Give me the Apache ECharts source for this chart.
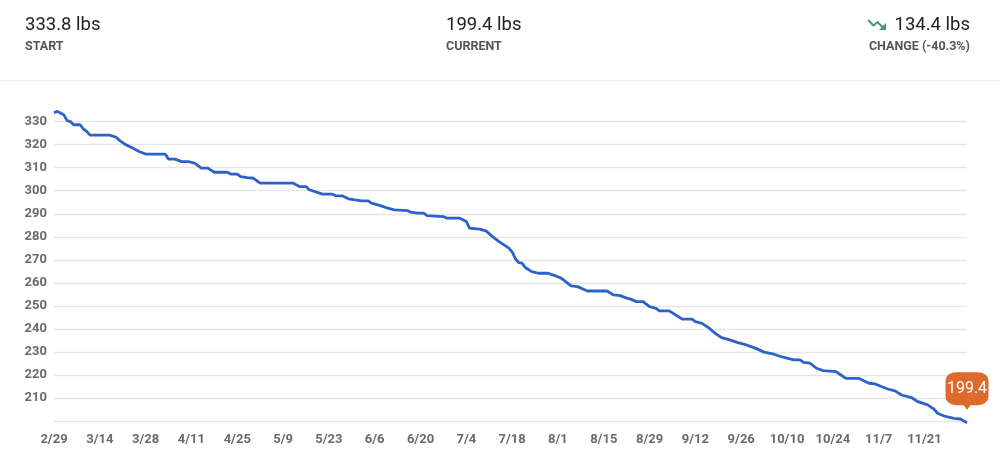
<!DOCTYPE html>
<html>
<head>
<meta charset="utf-8">
<script src="https://cdn.jsdelivr.net/npm/echarts@6/dist/echarts.min.js"></script>
<style>
html,body{margin:0;padding:0;background:#fff;}
#chart{width:1000px;height:460px;}
</style>
</head>
<body>
<div id="chart"></div>
<script>
// Day offsets from 2/29 and weights (lbs)
const days = [0,1,3,4,5,6,8,9,10,11,17,19,20,22,24,26,28,34,35,37,39,41,43,45,47,49,53,54,56,57,59,61,63,73,75,77,78,80,82,85,86,88,90,92,94,96,97,100,102,104,108,109,111,113,114,119,120,124,126,127,130,132,134,136,139,140,141,142,143,144,146,148,151,153,155,158,160,163,169,171,173,175,176,178,180,182,184,185,188,190,192,195,196,198,200,202,204,206,209,211,213,215,217,220,222,224,226,228,229,231,233,235,237,239,242,246,249,251,253,255,257,259,262,264,267,269,270,272,275,277,279];
const weights = [333.8,334.4,332.9,330.4,330.0,328.6,328.6,326.7,325.7,324.1,324.1,323.2,321.8,319.9,318.5,317.0,315.9,315.9,313.7,313.7,312.6,312.6,312.0,309.8,309.8,308.0,308.0,307.2,307.2,306.1,305.7,305.4,303.3,303.3,301.8,301.8,300.4,299.5,298.5,298.5,297.9,297.8,296.5,296.0,295.6,295.6,294.6,293.4,292.4,291.7,291.4,290.7,290.3,290.3,289.2,288.8,288.1,288.1,286.6,283.8,283.3,282.6,280.1,277.9,275.1,273.5,270.5,268.8,268.6,266.7,264.9,264.2,264.2,263.2,262.1,258.7,258.4,256.5,256.5,254.8,254.5,253.4,253.1,251.9,251.9,249.7,249.0,247.9,247.9,246.1,244.3,244.3,243.2,242.5,240.6,238.2,236.3,235.5,234.1,233.4,232.4,231.3,230.0,229.1,228.1,227.4,226.6,226.6,225.6,225.2,223.0,222.0,221.8,221.5,218.6,218.6,216.5,216.2,215.0,213.9,213.2,211.4,210.3,208.5,207.1,205.2,203.5,202.3,201.3,201.0,199.4];
const tickLabels = ['2/29','3/14','3/28','4/11','4/25','5/9','5/23','6/6','6/20','7/4','7/18','8/1','8/15','8/29','9/12','9/26','10/10','10/24','11/7','11/21'];
const lastDay = 279;
const startText = '333.8 lbs';
const currentText = '199.4 lbs';
const changeText = '134.4 lbs';
const changePct = 'CHANGE (-40.3%)';
const currentValue = 199.4;

const seriesData = days.map((d, i) => [d, weights[i]]);
const FONT = 'Roboto, "Liberation Sans", sans-serif';
const BADGE = '#de6a2b';

const chart = echarts.init(document.getElementById('chart'), null, {renderer: 'canvas'});
chart.setOption({
  backgroundColor: '#ffffff',
  animation: false,
  grid: {left: 54, right: 33, top: 110, bottom: 38.7},
  xAxis: {
    type: 'value',
    min: 0,
    max: lastDay,
    interval: 14,
    axisLine: {show: false},
    axisTick: {show: false},
    splitLine: {show: false},
    axisLabel: {
      showMaxLabel: false,
      margin: 12,
      color: '#6b6b6b',
      fontFamily: FONT,
      fontWeight: 'bold',
      fontSize: 13,
      formatter: v => tickLabels[Math.round(v / 14)] || ''
    }
  },
  yAxis: {
    type: 'value',
    min: 200,
    max: 335,
    interval: 10,
    axisLine: {show: false},
    axisTick: {show: false},
    splitLine: {show: true, showMaxLine: false, lineStyle: {color: '#e6e6e6', width: 1.3}},
    axisLabel: {
      showMinLabel: false,
      showMaxLabel: false,
      margin: 7,
      color: '#6b6b6b',
      fontFamily: FONT,
      fontWeight: 'bold',
      fontSize: 13
    }
  },
  series: [
    {
      type: 'line',
      data: seriesData,
      showSymbol: false,
      clip: false,
      lineStyle: {color: '#2d62cb', width: 2.8},
      z: 2
    },
    {
      // pointer of the current-value badge
      type: 'scatter',
      data: [[lastDay, currentValue]],
      clip: false,
      silent: true,
      symbol: 'triangle',
      symbolRotate: 180,
      symbolSize: [9, 6],
      symbolOffset: [0, -16],
      itemStyle: {color: BADGE, opacity: 1},
      z: 5
    },
    {
      // current-value badge
      type: 'scatter',
      data: [[lastDay, currentValue]],
      clip: false,
      silent: true,
      symbol: 'roundRect',
      symbolSize: [43, 33],
      symbolOffset: [0, -34],
      itemStyle: {color: BADGE, opacity: 1},
      label: {
        show: true,
        position: 'inside',
        color: '#ffffff',
        fontFamily: FONT,
        fontSize: 16,
        formatter: p => String(p.value[1])
      },
      z: 6
    }
  ],
  graphic: [
    {type: 'text', left: 25, top: 16, style: {text: startText, font: '18.5px ' + FONT, fill: '#222'}},
    {type: 'text', left: 25, top: 40, style: {text: 'START', font: 'bold 12.5px ' + FONT, fill: '#555'}},
    {type: 'text', left: 446, top: 16, style: {text: currentText, font: '18.5px ' + FONT, fill: '#222'}},
    {type: 'text', left: 446, top: 40, style: {text: 'CURRENT', font: 'bold 12.5px ' + FONT, fill: '#555'}},
    {type: 'text', right: 30, top: 16, style: {text: changeText, font: '18.5px ' + FONT, fill: '#222'}},
    {type: 'text', right: 30, top: 40, style: {text: changePct, font: 'bold 12.5px ' + FONT, fill: '#555'}},
    {type: 'polyline', shape: {points: [[868,20],[873.5,25.5],[877.5,22],[883,27.5]]}, style: {stroke: '#3d9a66', lineWidth: 2, fill: null}},
    {type: 'polygon', shape: {points: [[879,30],[886,30],[886,23]]}, style: {fill: '#3d9a66'}},
    {type: 'rect', shape: {x: 0, y: 80, width: 1000, height: 1.5}, style: {fill: '#eeeeee'}}
  ]
});
</script>
</body>
</html>
